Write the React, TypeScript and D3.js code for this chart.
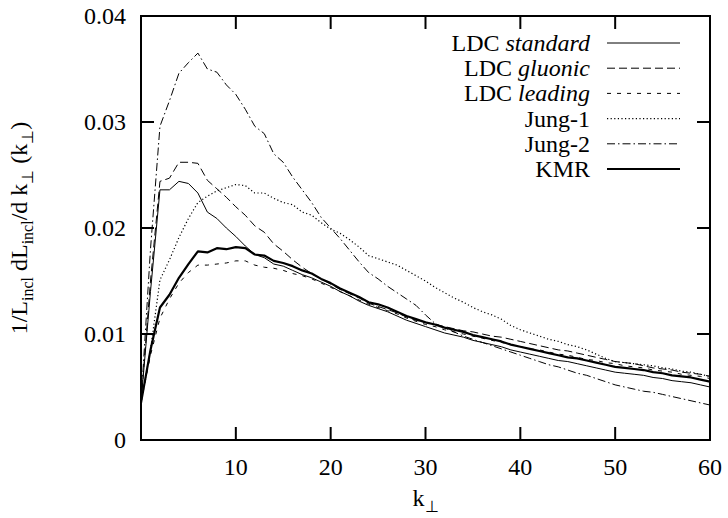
import React from "react";
import * as d3 from "d3";

const kValues: number[] = d3.range(0, 61);

const ldcStandard: number[] = [
  0.0035, 0.0140, 0.0236, 0.0236, 0.0244, 0.0242, 0.0233, 0.0215, 0.0209, 0.0200,
  0.0192, 0.0183, 0.0175, 0.0172, 0.0166, 0.0164, 0.0160, 0.0156, 0.0153, 0.0149,
  0.0145, 0.0140, 0.0136, 0.0131, 0.0127, 0.0124, 0.0121, 0.0117, 0.0113, 0.0110,
  0.0107, 0.0104, 0.0101, 0.0099, 0.0097, 0.0094, 0.0092, 0.0090, 0.0088, 0.0085,
  0.0083, 0.0081, 0.0079, 0.0077, 0.0075, 0.0074, 0.0072, 0.0070, 0.0068, 0.0066,
  0.0064, 0.0063, 0.0062, 0.0061, 0.0059, 0.0058, 0.0056, 0.0055, 0.0054, 0.0052,
  0.0050,
];

const ldcGluonic: number[] = [
  0.0035, 0.0150, 0.0244, 0.0247, 0.0262, 0.0262, 0.0261, 0.0245, 0.0237, 0.0229,
  0.0220, 0.0212, 0.0202, 0.0196, 0.0185, 0.0178, 0.0170, 0.0163, 0.0157, 0.0152,
  0.0147, 0.0142, 0.0138, 0.0134, 0.0129, 0.0126, 0.0123, 0.0120, 0.0116, 0.0113,
  0.0111, 0.0109, 0.0107, 0.0105, 0.0103, 0.0102, 0.0100, 0.0098, 0.0097, 0.0095,
  0.0093, 0.0091, 0.0089, 0.0087, 0.0085, 0.0084, 0.0082, 0.0080, 0.0078, 0.0076,
  0.0074, 0.0073, 0.0072, 0.0070, 0.0068, 0.0067, 0.0066, 0.0064, 0.0063, 0.0062,
  0.0060,
];

const ldcLeading: number[] = [
  0.0035, 0.0080, 0.0115, 0.0133, 0.0148, 0.0158, 0.0165, 0.0165, 0.0166, 0.0167,
  0.0169, 0.0169, 0.0165, 0.0163, 0.0162, 0.0160, 0.0157, 0.0155, 0.0152, 0.0148,
  0.0144, 0.0140, 0.0136, 0.0132, 0.0128, 0.0125, 0.0122, 0.0119, 0.0115, 0.0112,
  0.0109, 0.0107, 0.0104, 0.0102, 0.0100, 0.0098, 0.0096, 0.0094, 0.0092, 0.0090,
  0.0088, 0.0086, 0.0085, 0.0083, 0.0081, 0.0080, 0.0078, 0.0076, 0.0075, 0.0073,
  0.0072, 0.0070, 0.0069, 0.0068, 0.0066, 0.0065, 0.0064, 0.0062, 0.0061, 0.0060,
  0.0058,
];

const jung1: number[] = [
  0.0035, 0.0085, 0.0151, 0.0170, 0.0191, 0.0209, 0.0224, 0.0230, 0.0235, 0.0238,
  0.0241, 0.0240, 0.0233, 0.0233, 0.0228, 0.0224, 0.0222, 0.0215, 0.0212, 0.0205,
  0.0199, 0.0195, 0.0189, 0.0182, 0.0174, 0.0171, 0.0168, 0.0165, 0.0160, 0.0155,
  0.0150, 0.0144, 0.0139, 0.0134, 0.0130, 0.0125, 0.0121, 0.0118, 0.0114, 0.0108,
  0.0104, 0.0101, 0.0098, 0.0095, 0.0093, 0.0090, 0.0088, 0.0085, 0.0081, 0.0077,
  0.0074, 0.0073, 0.0072, 0.0071, 0.0070, 0.0068, 0.0067, 0.0065, 0.0064, 0.0062,
  0.0060,
];

const jung2: number[] = [
  0.0035, 0.0180, 0.0296, 0.0320, 0.0346, 0.0356, 0.0365, 0.0350, 0.0347, 0.0335,
  0.0326, 0.0312, 0.0296, 0.0289, 0.0270, 0.0262, 0.0248, 0.0236, 0.0224, 0.0210,
  0.0200, 0.0190, 0.0179, 0.0168, 0.0158, 0.0152, 0.0145, 0.0139, 0.0133, 0.0127,
  0.0118, 0.0110, 0.0106, 0.0102, 0.0098, 0.0095, 0.0092, 0.0089, 0.0086, 0.0083,
  0.0080, 0.0077, 0.0074, 0.0071, 0.0069, 0.0066, 0.0063, 0.0061, 0.0058, 0.0055,
  0.0052, 0.0050, 0.0048, 0.0046, 0.0045, 0.0043, 0.0041, 0.0039, 0.0037, 0.0035,
  0.0033,
];

const kmr: number[] = [
  0.0035, 0.0085, 0.0125, 0.0137, 0.0153, 0.0166, 0.0178, 0.0177, 0.0181, 0.0180,
  0.0182, 0.0181, 0.0175, 0.0174, 0.0169, 0.0167, 0.0164, 0.0160, 0.0157, 0.0152,
  0.0148, 0.0143, 0.0139, 0.0135, 0.0130, 0.0128, 0.0125, 0.0121, 0.0117, 0.0114,
  0.0111, 0.0109, 0.0106, 0.0104, 0.0102, 0.0099, 0.0097, 0.0095, 0.0093, 0.0090,
  0.0088, 0.0086, 0.0084, 0.0082, 0.0080, 0.0078, 0.0077, 0.0075, 0.0073, 0.0071,
  0.0069, 0.0068, 0.0067, 0.0066, 0.0064, 0.0063, 0.0061, 0.0060, 0.0059, 0.0057,
  0.0055,
];

const xTicks: number[] = [10, 20, 30, 40, 50, 60];
const yTicks: number[] = [0, 0.01, 0.02, 0.03, 0.04];
const yTickLabels: string[] = ["0", "0.01", "0.02", "0.03", "0.04"];

const seriesNames: string[] = ["LDC", "LDC", "LDC", "Jung-1", "Jung-2", "KMR"];
const seriesItalic: string[] = ["standard", "gluonic", "leading", "", "", ""];
const seriesValues: number[][] = [ldcStandard, ldcGluonic, ldcLeading, jung1, jung2, kmr];
const seriesDash: string[] = ["", "8,4", "4,6", "1.2,2.4", "8,3,1.5,3", ""];
const seriesWidth: number[] = [1, 1, 1, 1.2, 1, 2.2];

const W = 728;
const H = 518;
const M = { left: 141, right: 710, top: 16, bottom: 440 };
const FONT = '"Liberation Serif", "Times New Roman", Times, serif';
const FS = 24;
const SUB = 16;

export default function App() {
  const x = d3.scaleLinear().domain([0, 60]).range([M.left, M.right]);
  const y = d3.scaleLinear().domain([0, 0.04]).range([M.bottom, M.top]);
  const line = d3
    .line<number>()
    .x((_, i) => x(kValues[i]))
    .y((v) => y(v));

  const tickLen = 13;
  const legendX = 590;
  const legendY0 = 43;
  const legendDy = 25.2;
  const ts: React.CSSProperties = { fontFamily: FONT };

  return (
    <svg
      width={W}
      height={H}
      style={{ position: "absolute", left: 0, top: 0, background: "#fff", fontFamily: FONT }}
    >
      <rect x={0} y={0} width={W} height={H} fill="#fff" />
      <defs>
        <clipPath id="plotclip">
          <rect x={M.left} y={M.top} width={M.right - M.left} height={M.bottom - M.top} />
        </clipPath>
      </defs>

      {/* ticks */}
      {xTicks.map((t) => (
        <g key={"xt" + t}>
          <line x1={x(t)} x2={x(t)} y1={M.bottom} y2={M.bottom - tickLen} stroke="#000" strokeWidth={2} />
          <line x1={x(t)} x2={x(t)} y1={M.top} y2={M.top + tickLen} stroke="#000" strokeWidth={2} />
          <text x={x(t)} y={M.bottom + 35} fontSize={FS} textAnchor="middle" style={ts}>
            {t}
          </text>
        </g>
      ))}
      {yTicks.map((t, i) => (
        <g key={"yt" + t}>
          <line x1={M.left} x2={M.left + tickLen} y1={y(t)} y2={y(t)} stroke="#000" strokeWidth={2} />
          <line x1={M.right} x2={M.right - tickLen} y1={y(t)} y2={y(t)} stroke="#000" strokeWidth={2} />
          <text x={126} y={y(t) + 8} fontSize={FS} textAnchor="end" style={ts}>
            {yTickLabels[i]}
          </text>
        </g>
      ))}

      {/* curves */}
      <g clipPath="url(#plotclip)">
        {seriesValues.map((vals, i) => (
          <path
            key={"s" + i}
            d={line(vals) || ""}
            fill="none"
            stroke="#000"
            strokeWidth={seriesWidth[i]}
            strokeDasharray={seriesDash[i] || undefined}
            strokeLinejoin="round"
          />
        ))}
      </g>

      {/* legend */}
      {seriesNames.map((n, i) => {
        const ly = legendY0 + i * legendDy;
        return (
          <g key={"lg" + i}>
            <text x={legendX} y={ly + 8} fontSize={FS} textAnchor="end" style={ts}>
              {n}
              {seriesItalic[i] ? (
                <tspan fontStyle="italic">{" " + seriesItalic[i]}</tspan>
              ) : null}
            </text>
            <line
              x1={607}
              x2={680}
              y1={ly}
              y2={ly}
              stroke="#000"
              strokeWidth={seriesWidth[i]}
              strokeDasharray={seriesDash[i] || undefined}
            />
          </g>
        );
      })}

      {/* frame */}
      <rect
        x={M.left}
        y={M.top}
        width={M.right - M.left}
        height={M.bottom - M.top}
        fill="none"
        stroke="#000"
        strokeWidth={2}
      />

      {/* x-axis title */}
      <text x={(M.left + M.right) / 2} y={M.bottom + 66} fontSize={FS} textAnchor="middle" style={ts}>
        k
        <tspan fontSize={SUB} dy={6}>⊥</tspan>
      </text>

      {/* y-axis title */}
      <text
        transform={`translate(27, ${(M.top + M.bottom) / 2}) rotate(-90)`}
        fontSize={FS}
        textAnchor="middle"
        style={ts}
      >
        1/L
        <tspan fontSize={SUB} dy={6}>incl</tspan>
        <tspan dy={-6}> dL</tspan>
        <tspan fontSize={SUB} dy={6}>incl</tspan>
        <tspan dy={-6}>/d k</tspan>
        <tspan fontSize={SUB} dy={6}>⊥</tspan>
        <tspan dy={-6}> (k</tspan>
        <tspan fontSize={SUB} dy={6}>⊥</tspan>
        <tspan dy={-6}>)</tspan>
      </text>
    </svg>
  );
}
